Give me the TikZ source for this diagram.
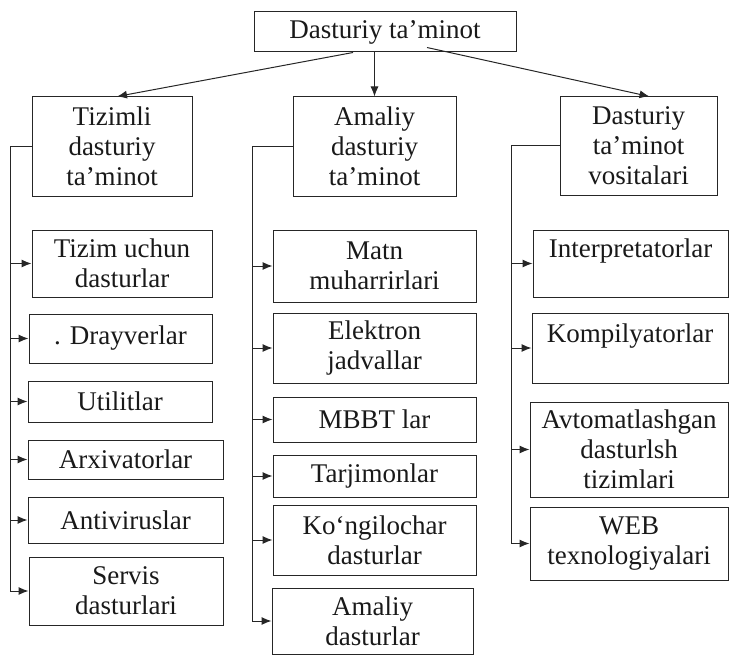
\documentclass[tikz,border=0pt]{standalone}
\usepackage{fontspec}
\setmainfont{Liberation Serif}
\usetikzlibrary{arrows.meta}

\begin{document}
\begin{tikzpicture}[x=1pt,y=-1pt,
        box/.style={draw=black!85,line width=1pt,inner sep=0pt,align=center,
            text=black!90,font=\fontsize{27}{30}\selectfont},
        arr/.style={draw=black!85,line width=1pt,-{Latex[length=10pt,width=8pt]}},
        bus/.style={draw=black!85,line width=1pt}]
        \useasboundingbox (0,0) rectangle (730,655);

        % root
        \draw (385,32) node(dt)[box,minimum width=262,minimum height=40] {Dasturiy ta’minot};

        % level 2
        \draw
            (112,146.5) node(tdt)[box,minimum width=160,minimum height=99] {Tizimli\\dasturiy\\ta’minot}
            (374.5,146.5) node(adt)[box,minimum width=163,minimum height=99] {Amaliy\\dasturiy\\ta’minot}
            (638.5,146) node(dtv)[box,minimum width=157,minimum height=98] {Dasturiy\\ta’minot\\vositalari};

        % tizimli
        \draw
            (122,263.5) node(t1)[box,minimum width=180,minimum height=67] {Tizim uchun\\dasturlar}
            (120.5,338.5) node(t2)[box,minimum width=183,minimum height=49] {. Drayverlar}
            (120,401.5) node(t3)[box,minimum width=184,minimum height=41] {Utilitlar}
            (125.5,459.5) node(t4)[box,minimum width=195,minimum height=39] {Arxivatorlar}
            (125.5,520) node(t5)[box,minimum width=195,minimum height=46] {Antiviruslar}
            (126,591) node(t6)[box,minimum width=194,minimum height=68] {Servis\\dasturlari};

        % amaliy
        \draw
            (374.5,266) node(a1)[box,minimum width=203,minimum height=72] {Matn\\muharrirlari}
            (374.5,348) node(a2)[box,minimum width=203,minimum height=70] {Elektron\\jadvallar}
            (374.5,419.5) node(a3)[box,minimum width=203,minimum height=45] {MBBT lar}
            (374.5,476) node(a4)[box,minimum width=203,minimum height=42] {Tarjimonlar}
            (374.5,540) node(a5)[box,minimum width=203,minimum height=70] {Ko‘ngilochar\\dasturlar}
            (372.5,621) node(a6)[box,minimum width=201,minimum height=66] {Amaliy\\dasturlar};

        % vositalar
        \draw
            (630.5,263.5) node(v1)[box,minimum width=195,minimum height=67] {Interpretatorlar\\\mbox{}}
            (630,348) node(v2)[box,minimum width=196,minimum height=70] {Kompilyatorlar\\\mbox{}}
            (629,449.5) node(v3)[box,minimum width=198,minimum height=95] {Avtomatlashgan\\dasturlsh\\tizimlari}
            (629,543.5) node(v4)[box,minimum width=198,minimum height=73] {WEB\\texnologiyalari};

        % root arrows
        \draw[arr] ([xshift=-32pt]dt.south) -- ([xshift=5pt]tdt.north);
        \draw[arr] (adt.north |- dt.south) -- (adt.north);
        \draw[arr] ([xshift=42pt,yshift=5pt]dt.south) -- ([xshift=11pt]dtv.north);

        % buses
        \coordinate (tbus) at (10,146.5);
        \coordinate (abus) at (252,146.5);
        \coordinate (vbus) at (511,146);

        \draw[bus] (tdt.west) -- (tbus);
        \draw[arr] (tbus) |- (t6.west);
        \draw[arr] (tbus |- t1.west) -- (t1.west);
        \draw[arr] (tbus |- t2.west) -- (t2.west);
        \draw[arr] (tbus |- t3.west) -- (t3.west);
        \draw[arr] (tbus |- t4.west) -- (t4.west);
        \draw[arr] (tbus |- t5.west) -- (t5.west);

        \draw[bus] (adt.west) -- (abus);
        \draw[arr] (abus) |- (a6.west);
        \draw[arr] (abus |- a1.west) -- (a1.west);
        \draw[arr] (abus |- a2.west) -- (a2.west);
        \draw[arr] (abus |- a3.west) -- (a3.west);
        \draw[arr] (abus |- a4.west) -- (a4.west);
        \draw[arr] (abus |- a5.west) -- (a5.west);

        \draw[bus] (dtv.west) -- (vbus);
        \draw[arr] (vbus) |- (v4.west);
        \draw[arr] (vbus |- v1.west) -- (v1.west);
        \draw[arr] (vbus |- v2.west) -- (v2.west);
        \draw[arr] (vbus |- v3.west) -- (v3.west);
\end{tikzpicture}
\end{document}
